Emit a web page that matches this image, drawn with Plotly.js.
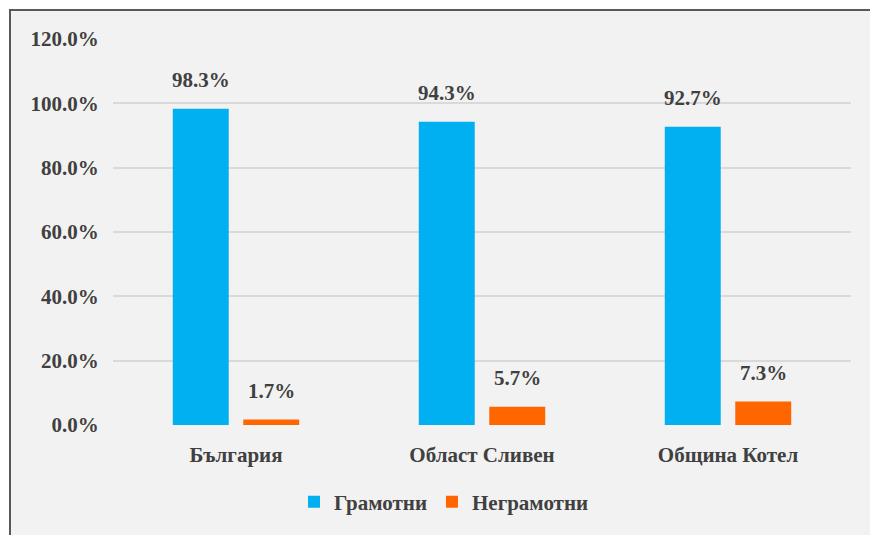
<!DOCTYPE html>
<html>
<head>
<meta charset="utf-8">
<script src="https://cdn.plot.ly/plotly-3.0.1.min.js"></script>
<style>
  body { margin: 0; background: #ffffff; }
  #ramka {
    position: absolute; left: 9px; top: 9px; width: 900px; height: 600px;
    background: #f2f2f2; border-left: 2px solid #595959; border-top: 2px solid #595959;
  }
  #grafika { position: absolute; left: 0; top: 0; width: 870px; height: 535px; }
</style>
</head>
<body>
<div id="ramka"></div>
<div id="grafika"></div>
<script>
const kategorii = ['България', 'Област Сливен', 'Община Котел'];
const gramotni = [98.3, 94.3, 92.7];
const negramotni = [1.7, 5.7, 7.3];
const imenaSerii = ['Грамотни', 'Неграмотни'];
const tickStojnosti = [0, 20, 40, 60, 80, 100, 120];
const tickEtiketi = ['0.0%', '20.0%', '40.0%', '60.0%', '80.0%', '100.0%', '120.0%'];

const shrift = { family: '"Liberation Serif", "Times New Roman", serif', size: 21, color: '#404040', weight: 'bold' };

const trazado = [
  {
    x: kategorii, y: gramotni, type: 'bar', name: imenaSerii[0],
    marker: { color: '#00b0f0' }, hoverinfo: 'none'
  },
  {
    x: kategorii, y: negramotni, type: 'bar', name: imenaSerii[1],
    marker: { color: '#ff6600' }, hoverinfo: 'none'
  }
];

// etiketi nad kolonite (malko po-visoko ot standartnoto 'outside')
const anotacii = [];
[gramotni, negramotni].forEach((serija, s) => {
  serija.forEach((v, i) => {
    anotacii.push({
      x: kategorii[i], y: v, xref: 'x', yref: 'y',
      text: v.toFixed(1) + '%', showarrow: false,
      xshift: s === 0 ? -35 : 35, yshift: 15, yanchor: 'bottom',
      font: shrift
    });
  });
});

const layout = {
  width: 870, height: 535,
  margin: { l: 113, r: 19, t: 39, b: 108 },
  paper_bgcolor: 'rgba(0,0,0,0)',
  plot_bgcolor: 'rgba(0,0,0,0)',
  barmode: 'group',
  bargap: 0.427,
  bargroupgap: 0.206,
  font: shrift,
  xaxis: {
    showgrid: false, zeroline: false, showline: false,
    ticks: 'outside', ticklen: 11, tickcolor: 'rgba(0,0,0,0)',
    tickfont: shrift
  },
  yaxis: {
    range: [0, 120], tickvals: tickStojnosti, ticktext: tickEtiketi,
    showgrid: true, gridcolor: '#d9d9d9', gridwidth: 2, zeroline: false,
    showline: false, ticks: 'outside', ticklen: 9, tickcolor: 'rgba(0,0,0,0)',
    tickfont: shrift
  },
  showlegend: true,
  legend: {
    orientation: 'h', x: 0.4485, xanchor: 'center', y: -0.2, yanchor: 'middle',
    font: shrift, bgcolor: 'rgba(0,0,0,0)'
  },
  annotations: anotacii
};

Plotly.newPlot('grafika', trazado, layout, { staticPlot: true });
</script>
</body>
</html>
